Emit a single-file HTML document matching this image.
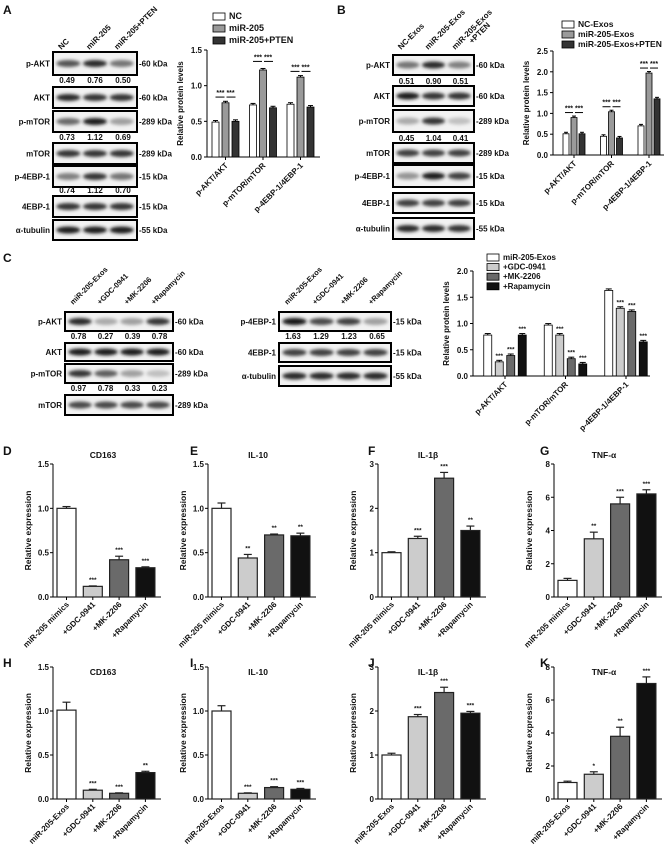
<!DOCTYPE html>
<html><head><meta charset="utf-8"><style>
html,body{margin:0;padding:0;background:#fff;}
svg{display:block;font-family:"Liberation Sans",Arial,sans-serif;}
</style></head><body>
<svg id="fig" width="669" height="851" viewBox="0 0 669 851" xmlns="http://www.w3.org/2000/svg">
<defs><filter id="blur" x="-20%" y="-50%" width="140%" height="200%"><feGaussianBlur stdDeviation="1.6"/></filter></defs>
</svg>
<script>
// ---------- data ----------
const groupCatsAB = ["p-AKT/AKT","p-mTOR/mTOR","p-4EBP-1/4EBP-1"];
const seriesA = ["NC","miR-205","miR-205+PTEN"];
const valsA_NC = [0.49,0.73,0.74];
const valsA_miR = [0.76,1.22,1.12];
const valsA_PTEN = [0.50,0.69,0.70];
const errsA_miR = [0.01,0.05,0.01];
const seriesB = ["NC-Exos","miR-205-Exos","miR-205-Exos+PTEN"];
const valsB_NC = [0.51,0.45,0.70];
const valsB_miR = [0.90,1.04,1.97];
const valsB_PTEN = [0.51,0.41,1.35];
const seriesC = ["miR-205-Exos","+GDC-0941","+MK-2206","+Rapamycin"];
const valsC_exos = [0.78,0.97,1.63];
const valsC_gdc = [0.27,0.78,1.29];
const valsC_mk = [0.39,0.33,1.23];
const valsC_rapa = [0.78,0.23,0.65];
const ticksA = [0,0.5,1.0,1.5];
const ticksB = [0,0.5,1.0,1.5,2.0,2.5];
const ticksC = [0,0.5,1.0,1.5,2.0];
const catsD = ["miR-205 mimics","+GDC-0941","+MK-2206","+Rapamycin"];
const catsH = ["miR-205-Exos","+GDC-0941","+MK-2206","+Rapamycin"];
const valsD = [1.0,0.12,0.42,0.33]; const errD=[0.02,0.005,0.04,0.01]; const sigD=["","***","***","***"];
const valsE = [1.0,0.44,0.70,0.69]; const errE=[0.06,0.04,0.01,0.03]; const sigE=["","**","**","**"];
const valsF = [1.0,1.32,2.68,1.50]; const errF=[0.02,0.05,0.13,0.1]; const sigF=["","***","***","**"];
const valsG = [1.0,3.5,5.6,6.2]; const errG=[0.12,0.4,0.4,0.25]; const sigG=["","**","***","***"];
const valsH = [1.01,0.10,0.065,0.30]; const errH=[0.09,0.01,0.005,0.015]; const sigH=["","***","***","**"];
const valsI = [1.0,0.065,0.13,0.11]; const errI=[0.06,0.005,0.01,0.01]; const sigI=["","***","***","***"];
const valsJ = [1.0,1.87,2.42,1.95]; const errJ=[0.04,0.05,0.12,0.04]; const sigJ=["","***","***","***"];
const valsK = [1.0,1.5,3.8,7.0]; const errK=[0.08,0.15,0.55,0.4]; const sigK=["","*","**","***"];
const ticks15 = [0,0.5,1.0,1.5]; const ticks3=[0,1,2,3]; const ticks8=[0,2,4,6,8];
const numsA1=["0.49","0.76","0.50"], numsA2=["0.73","1.12","0.69"], numsA3=["0.74","1.12","0.70"];
const numsB1=["0.51","0.90","0.51"], numsB2=["0.45","1.04","0.41"];
const numsC1=["0.78","0.27","0.39","0.78"], numsC2=["0.97","0.78","0.33","0.23"], numsC3=["1.63","1.29","1.23","0.65"];

const S = document.getElementById('fig');
const NS = "http://www.w3.org/2000/svg";
function el(tag, attrs, parent){ const e=document.createElementNS(NS,tag); for(const k in attrs) e.setAttribute(k,attrs[k]); (parent||S).appendChild(e); return e; }
function txt(x,y,s,size,anchor,parent,extra){ const t=el('text',Object.assign({x:x,y:y,'font-size':size,'text-anchor':anchor||'start','font-weight':'bold',fill:'#111'},extra||{}),parent); t.textContent=s; return t; }
const grays3=['#ffffff','#9a9a9a','#333333'];
const grays4=['#ffffff','#cccccc','#6a6a6a','#111111'];

function letter(x,y,s){ const t=txt(x,y,s,12,'start');   }
['A',3,14,'B',337,14,'C',3,262,'D',3,455,'E',190,455,'F',368,455,'G',540,455,'H',3,667,'I',190,667,'J',368,667,'K',540,667].reduce((a,v,i,arr)=>{ if(i%3===0) letter(arr[i+1],arr[i+2],v); return a;},0);

// ---------- blots ----------
function blot(name,x,y,w,h,lanes,inten,bh){
  const g=el('g',{});
  
  
  el('rect',{x:x,y:y,width:w,height:h,fill:'#f2f2f2',stroke:'#000','stroke-width':2},g);
  const lw=(w-4)/lanes;
  for(let i=0;i<lanes;i++){
    const c=Math.round(235-inten[i]*215);
    el('ellipse',{cx:x+2+lw*(i+0.5),cy:y+h/2,rx:lw*0.45,ry:bh||3.5,fill:`rgb(${c},${c},${c})`,filter:'url(#blur)'},g);
  }
}
function rowLabel(x,y,s,anchor){ const t=txt(x,y,s,8,anchor||'end');   }
function nums(x,w,y,arr){ const lw=w/arr.length; arr.forEach((s,i)=>{ const t=txt(x+lw*(i+0.5),y,s,8,'middle');  }); }
function heads(x,w,y,arr,size){ const lw=w/arr.length; arr.forEach((s,i)=>{ const cx=x+lw*(i+0.3); const t=txt(cx,y,s,size||8,'start',null,{transform:`rotate(-45 ${cx} ${y})`});  }); }

// Panel A blots
const Ax=53,Aw=84;
heads(Ax,Aw,50,["NC","miR-205","miR-205+PTEN"]);
const rowsA=[["p-AKT",52,75,[0.7,0.9,0.55],"-60 kDa"],["AKT",87,108,[0.9,0.85,0.85],"-60 kDa"],["p-mTOR",111,132,[0.6,0.95,0.35],"-289 kDa"],["mTOR",143,164,[0.85,0.85,0.85],"-289 kDa"],["p-4EBP-1",166,187,[0.5,0.85,0.55],"-15 kDa"],["4EBP-1",196,217,[0.85,0.85,0.85],"-15 kDa"],["α-tubulin",220,240,[0.95,0.95,0.95],"-55 kDa"]];
rowsA.forEach(r=>{ blot('blot-a-'+r[0],Ax,r[1],Aw,r[2]-r[1],3,r[3]); rowLabel(Ax-3,(r[1]+r[2])/2+3,r[0]); rowLabel(Ax+Aw+2,(r[1]+r[2])/2+3,r[4],'start'); });
nums(Ax,Aw,83,numsA1); nums(Ax,Aw,140,numsA2); nums(Ax,Aw,193,numsA3);
// Panel B blots
const Bx=393,Bw=81;
heads(Bx,Bw,50,["NC-Exos","miR-205-Exos","miR-205-Exos"]);
txt(Bx+Bw*0.83+12,44,"+PTEN",8,'start',null,{transform:`rotate(-45 ${Bx+Bw*0.83+12} 44)`});
const rowsB=[["p-AKT",55,75,[0.55,0.9,0.5],"-60 kDa"],["AKT",86,106,[0.95,0.85,0.85],"-60 kDa"],["p-mTOR",110,132,[0.3,0.85,0.2],"-289 kDa"],["mTOR",143,163,[0.8,0.8,0.8],"-289 kDa"],["p-4EBP-1",165,187,[0.4,0.95,0.8],"-15 kDa"],["4EBP-1",193,213,[0.8,0.8,0.8],"-15 kDa"],["α-tubulin",218,239,[0.9,0.9,0.85],"-55 kDa"]];
rowsB.forEach(r=>{ blot('blot-b-'+r[0],Bx,r[1],Bw,r[2]-r[1],3,r[3]); rowLabel(Bx-3,(r[1]+r[2])/2+3,r[0]); rowLabel(Bx+Bw+2,(r[1]+r[2])/2+3,r[4],'start'); });
nums(Bx,Bw,84,numsB1); nums(Bx,Bw,141,numsB2);
// Panel C blots
const C1x=65,C1w=108,C2x=279,C2w=112;
heads(C1x,C1w,305,seriesC,7.5); heads(C2x,C2w,305,seriesC,7.5);
const rowsC1=[["p-AKT",312,331,[0.9,0.3,0.35,0.85],"-60 kDa"],["AKT",343,361,[0.95,0.95,0.95,0.95],"-60 kDa"],["p-mTOR",364,383,[0.85,0.65,0.35,0.2],"-289 kDa"],["mTOR",395,415,[0.75,0.75,0.75,0.75],"-289 kDa"]];
rowsC1.forEach(r=>{ blot('blot-c-'+r[0],C1x,r[1],C1w,r[2]-r[1],4,r[3]); rowLabel(C1x-3,(r[1]+r[2])/2+3,r[0]); rowLabel(C1x+C1w+2,(r[1]+r[2])/2+3,r[4],'start'); });
const rowsC2=[["p-4EBP-1",312,331,[1,0.75,0.8,0.35],"-15 kDa"],["4EBP-1",343,362,[0.8,0.8,0.8,0.8],"-15 kDa"],["α-tubulin",366,386,[0.9,0.9,0.9,0.9],"-55 kDa"]];
rowsC2.forEach(r=>{ blot('blot-c2-'+r[0],C2x,r[1],C2w,r[2]-r[1],4,r[3]); rowLabel(C2x-3,(r[1]+r[2])/2+3,r[0]); rowLabel(C2x+C2w+2,(r[1]+r[2])/2+3,r[4],'start'); });
nums(C1x,C1w,339,numsC1); nums(C1x,C1w,391,numsC2); nums(C2x,C2w,339,numsC3);

// ---------- grouped bar charts ----------
function grouped(name,ax,axEnd,y0,yTop,ymax,ticks,series,cats,bw,step,gstep,g0,colors,ytitle,sigFn){
  const g=el('g',{});
  
  
  const ys=v=>y0-(v/ymax)*(y0-yTop);
  el('line',{x1:ax,y1:yTop,x2:ax,y2:y0,stroke:'#000','stroke-width':1},g);
  el('line',{x1:ax,y1:y0,x2:axEnd,y2:y0,stroke:'#000','stroke-width':1},g);
  ticks.forEach(t=>{ el('line',{x1:ax-3,y1:ys(t),x2:ax,y2:ys(t),stroke:'#000'},g); const tl=txt(ax-5,ys(t)+3,t.toFixed(1),8,'end',g);   });
  const yt=txt(0,0,ytitle,8,'middle',g,{transform:`translate(${ax-24},${(y0+yTop)/2}) rotate(-90)`});
   
  const n=series.length;
  cats.forEach((c,gi)=>{
    const cx=g0+gi*gstep;
    el('line',{x1:cx,y1:y0,x2:cx,y2:y0+3,stroke:'#000'},g);
    const lt=txt(cx+3,y0+9,c,8,'end',g,{transform:`rotate(-45 ${cx+3} ${y0+9})`});
     
    series.forEach((vals,si)=>{
      const bx=cx+(si-(n-1)/2)*step-bw/2;
      const r=el('rect',{x:bx,y:ys(vals[gi]),width:bw,height:y0-ys(vals[gi]),fill:colors[si],stroke:'#000','stroke-width':0.8},g);
      
      
      el('line',{x1:bx+bw/2,y1:ys(vals[gi])-1.5,x2:bx+bw/2,y2:ys(vals[gi]),stroke:'#000'},g);
      el('line',{x1:bx+1,y1:ys(vals[gi])-1.5,x2:bx+bw-1,y2:ys(vals[gi])-1.5,stroke:'#000'},g);
    });
    if(sigFn) sigFn(g,cx,ys,gi);
  });
  return ys;
}
function legend(x,y,dy,names,colors,size){
  names.forEach((s,i)=>{
    const g=el('g',{});
    
    
    el('rect',{x:x,y:y+i*dy-6,width:12,height:7,fill:colors[i],stroke:'#000','stroke-width':0.8},g);
    txt(x+16,y+i*dy,s,size||9,'start',g);
  });
}
function pairSig(vMid,errs,step){ return (g,cx,ys,gi)=>{ const top=ys(vMid[gi]+(errs?errs[gi]:0))-5; el('line',{x1:cx-step,y1:top,x2:cx-1,y2:top,stroke:'#000'},g); el('line',{x1:cx+1,y1:top,x2:cx+step,y2:top,stroke:'#000'},g); txt(cx,top-2,"*** ***",7,'middle',g);} }

grouped('chart-a',207,320,157,50,1.5,ticksA,[valsA_NC,valsA_miR,valsA_PTEN],groupCatsAB,7,10,37.5,225.5,grays3,'Relative protein levels',pairSig(valsA_miR,errsA_miR,10));
legend(213,19,12,seriesA,grays3,9);
grouped('chart-b',553,664,155,51,2.5,ticksB,[valsB_NC,valsB_miR,valsB_PTEN],groupCatsAB,6,8,37.5,574,grays3,'Relative protein levels',pairSig(valsB_miR,null,9));
legend(562,27,10,seriesB,grays3,8.5);
const valsCall=[valsC_exos,valsC_gdc,valsC_mk,valsC_rapa];
grouped('chart-c',473,650,376,271,2.0,ticksC,valsCall,groupCatsAB,8,11.5,60.5,505,grays4,'Relative protein levels',(g,cx,ys,gi)=>{ for(let si=1;si<4;si++){ txt(cx+(si-1.5)*11.5,ys(valsCall[si][gi])-4,"***",6.5,'middle',g);} });
legend(487,260,9.6,seriesC,grays4,8);

// ---------- small bar charts ----------
function small(name,ax,yTop,y0,ymax,ticks,dec,vals,errs,sig,cats,title,titleY){
  const g=el('g',{});
  
  
  const ys=v=>y0-(v/ymax)*(y0-yTop);
  el('line',{x1:ax,y1:yTop,x2:ax,y2:y0,stroke:'#000'},g);
  el('line',{x1:ax,y1:y0,x2:ax+108,y2:y0,stroke:'#000'},g);
  ticks.forEach(t=>{ el('line',{x1:ax-3,y1:ys(t),x2:ax,y2:ys(t),stroke:'#000'},g); const tl=txt(ax-4,ys(t)+3,t.toFixed(dec),8,'end',g);  });
  const tt=txt(ax+50,titleY,title,8.5,'middle',g);  
  const yt=txt(0,0,'Relative expression',8.5,'middle',g,{transform:`translate(${ax-22},${(y0+yTop)/2}) rotate(-90)`});  
  vals.forEach((v,i)=>{
    const bx=ax+4+i*26.3, cx=bx+9.5;
    const r=el('rect',{x:bx,y:ys(v),width:19,height:y0-ys(v),fill:grays4[i],stroke:'#222','stroke-width':1.2},g);
    
    
    const et=ys(v+errs[i]);
    el('line',{x1:cx,y1:et,x2:cx,y2:ys(v),stroke:'#222','stroke-width':1.2},g);
    el('line',{x1:cx-4,y1:et,x2:cx+4,y2:et,stroke:'#222','stroke-width':1.2},g);
    if(sig[i]) txt(cx,et-4,sig[i],6.5,'middle',g);
    el('line',{x1:cx,y1:y0,x2:cx,y2:y0+3,stroke:'#000'},g);
    const lt=txt(cx+3,y0+8,cats[i],8,'end',g,{transform:`rotate(-45 ${cx+3} ${y0+8})`});
     
  });
}
small('chart-d',53,464,597,1.5,ticks15,1,valsD,errD,sigD,catsD,'CD163',458);
small('chart-e',208,464,597,1.5,ticks15,1,valsE,errE,sigE,catsD,'IL-10',458);
small('chart-f',378,464,597,3,ticks3,0,valsF,errF,sigF,catsD,'IL-1β',458);
small('chart-g',554,464,597,8,ticks8,0,valsG,errG,sigG,catsD,'TNF-α',458);
small('chart-h',53,667,799,1.5,ticks15,1,valsH,errH,sigH,catsH,'CD163',675);
small('chart-i',208,667,799,1.5,ticks15,1,valsI,errI,sigI,catsH,'IL-10',675);
small('chart-j',378,667,799,3,ticks3,0,valsJ,errJ,sigJ,catsH,'IL-1β',675);
small('chart-k',554,667,799,8,ticks8,0,valsK,errK,sigK,catsH,'TNF-α',675);
</script>
</body></html>
